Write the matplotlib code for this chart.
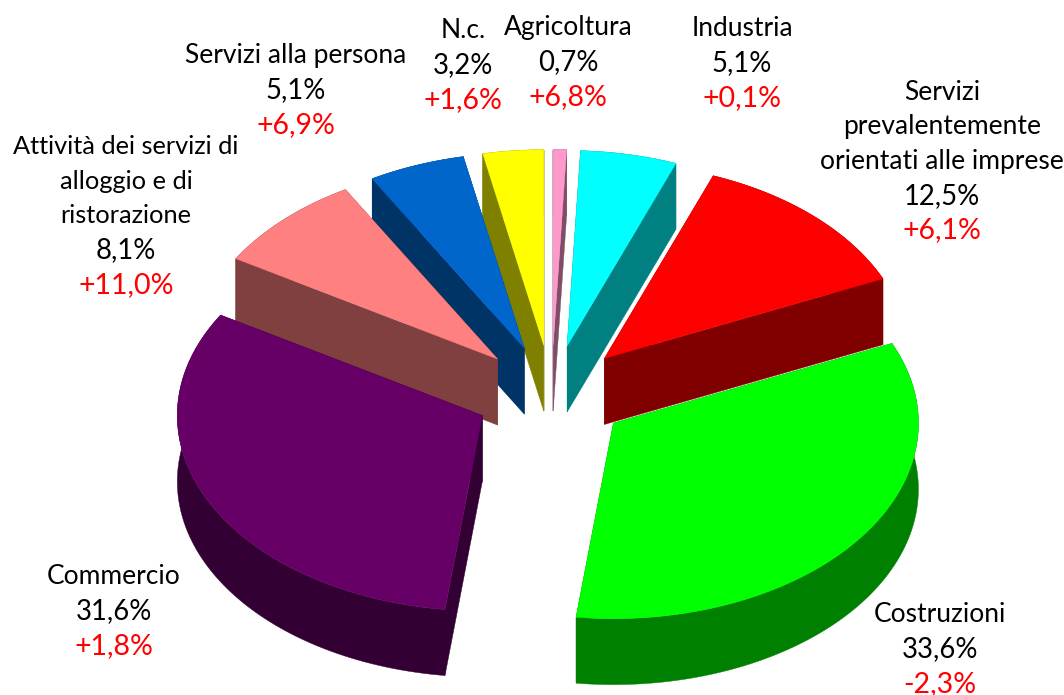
import numpy as np
import matplotlib
matplotlib.use('Agg')
import matplotlib.pyplot as plt
from matplotlib.patches import Polygon

# dati
categories = [['Agricoltura'], ['Industria'],
              ['Servizi', 'prevalentemente', 'orientati alle imprese'],
              ['Costruzioni'], ['Commercio'],
              ['Attività dei servizi di', 'alloggio e di', 'ristorazione'],
              ['Servizi alla persona'], ['N.c.']]
shares = [0.7, 5.1, 12.5, 33.6, 31.6, 8.1, 5.1, 3.2]
changes = ['+6,8%', '+0,1%', '+6,1%', '-2,3%', '+1,8%', '+11,0%', '+6,9%', '+1,6%']
top_colors = ['#FF99CC', '#00FFFF', '#FF0000', '#00FF00', '#660066', '#FF8080', '#0066CC', '#FFFF00']
side_colors = ['#804D66', '#008080', '#800000', '#008000', '#330033', '#804040', '#003366', '#808000']

# posizione etichette (centro x, y prima riga)
label_x = [568, 742, 942, 940, 114, 126, 296, 463]
label_y = [28, 29, 92.5, 615, 577, 147, 56, 31]
name_size = [19, 19, 19, 19, 19, 18.3, 19, 19]
line_h = 34.4

# geometria della torta
cx, cy = 551.5, 394
rx, ry = 305, 195.5
ex, ey = 77, 49
depth = 66

fig = plt.figure(figsize=(10.64, 6.95), dpi=100)
ax = fig.add_axes([0, 0, 1, 1])
ax.set_xlim(0, 1064)
ax.set_ylim(695, 0)
ax.axis('off')

edges = np.concatenate([[0], np.cumsum(shares)]) / np.sum(shares) * 2 * np.pi


def draw_slice(i):
    a0, a1 = edges[i], edges[i + 1]
    mid = (a0 + a1) / 2
    ox = cx + ex * np.sin(mid)
    oy = cy - ey * np.cos(mid)
    t = np.linspace(a0, a1, 200)
    xs = ox + rx * np.sin(t)
    ys = oy - ry * np.cos(t)
    side = dict(facecolor=side_colors[i], edgecolor=side_colors[i], linewidth=0.3)
    # facce di taglio
    for k in (0, -1):
        ax.add_patch(Polygon([(ox, oy), (xs[k], ys[k]), (xs[k], ys[k] + depth), (ox, oy + depth)], **side))
    # bordo esterno
    ax.add_patch(Polygon(np.column_stack([np.r_[xs, xs[::-1]], np.r_[ys, ys[::-1] + depth]]), **side))
    ax.add_patch(Polygon(np.column_stack([np.r_[ox, xs], np.r_[oy, ys]]),
                         facecolor=top_colors[i], edgecolor=top_colors[i], linewidth=0.3))


for i in [0, 1, 7, 6, 2, 5, 4, 3]:
    draw_slice(i)

plt.rcParams['font.family'] = ['Lato', 'DejaVu Sans']
for i, name in enumerate(categories):
    for j, s in enumerate(name):
        ax.text(label_x[i], label_y[i] + j * line_h, s, ha='center', va='center', fontsize=name_size[i], color='black')
    n = len(name)
    ax.text(label_x[i], label_y[i] + n * line_h, f'{shares[i]:.1f}%'.replace('.', ','), ha='center', va='center',
            fontsize=19.8, color='black')
    ax.text(label_x[i], label_y[i] + (n + 1) * line_h, changes[i], ha='center', va='center',
            fontsize=20.5, color='#FF0000')

fig.savefig('out.png', dpi=100)
